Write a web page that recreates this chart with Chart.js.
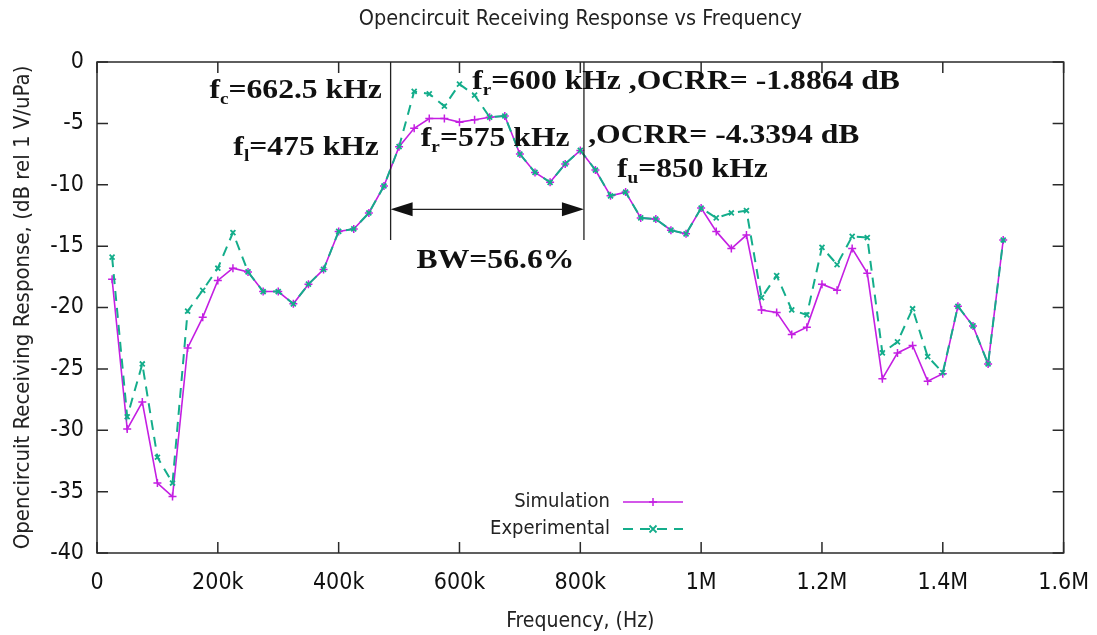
<!DOCTYPE html>
<html>
<head>
<meta charset="utf-8">
<script src="https://cdn.jsdelivr.net/npm/chart.js@4.4.1/dist/chart.umd.min.js"></script>
<style>
  html, body { margin: 0; padding: 0; background: #fff; }
  #wrap { width: 1097px; height: 635px; }
</style>
</head>
<body>
<div id="wrap"><canvas id="ocrr-chart" width="1097" height="635"></canvas></div>
<script>
// frequencies (Hz) of the measured points
const freqs = [
  25000, 50000, 75000, 100000, 125000, 150000, 175000, 200000, 225000, 250000,
  275000, 300000, 325000, 350000, 375000, 400000, 425000, 450000, 475000, 500000,
  525000, 550000, 575000, 600000, 625000, 650000, 675000, 700000, 725000, 750000,
  775000, 800000, 825000, 850000, 875000, 900000, 925000, 950000, 975000, 1000000,
  1025000, 1050000, 1075000, 1100000, 1125000, 1150000, 1175000, 1200000, 1225000, 1250000,
  1275000, 1300000, 1325000, 1350000, 1375000, 1400000, 1425000, 1450000, 1475000, 1500000
];

// OCRR, dB rel 1 V/uPa
const simulation = [
  -17.7, -29.9, -27.7, -34.3, -35.4, -23.3, -20.8, -17.8, -16.8, -17.1,
  -18.7, -18.7, -19.7, -18.1, -16.9, -13.8, -13.6, -12.3, -10.1, -6.9,
  -5.4, -4.6, -4.6, -4.9, -4.7, -4.5, -4.4, -7.5, -9.0, -9.8,
  -8.3, -7.2, -8.8, -10.9, -10.6, -12.7, -12.8, -13.7, -14.0, -11.9,
  -13.8, -15.2, -14.1, -20.2, -20.4, -22.2, -21.6, -18.1, -18.6, -15.2,
  -17.2, -25.8, -23.7, -23.1, -26.0, -25.4, -19.9, -21.5, -24.6, -14.5
];

const experimental = [
  -15.9, -28.9, -24.6, -32.2, -34.3, -20.3, -18.6, -16.8, -13.9, -17.1,
  -18.7, -18.7, -19.7, -18.1, -16.9, -13.8, -13.6, -12.3, -10.1, -6.9,
  -2.4, -2.6, -3.6, -1.8, -2.7, -4.5, -4.4, -7.5, -9.0, -9.8,
  -8.3, -7.2, -8.8, -10.9, -10.6, -12.7, -12.8, -13.7, -14.0, -11.9,
  -12.7, -12.3, -12.1, -19.2, -17.4, -20.2, -20.6, -15.1, -16.5, -14.2,
  -14.3, -23.7, -22.8, -20.1, -24.0, -25.3, -19.9, -21.5, -24.6, -14.5
];

const xTicks = [0, 200000, 400000, 600000, 800000, 1000000, 1200000, 1400000, 1600000];
const xTickLabels = ["0", "200k", "400k", "600k", "800k", "1M", "1.2M", "1.4M", "1.6M"];
const yTicks = [0, -5, -10, -15, -20, -25, -30, -35, -40];
const yTickLabels = ["0", "-5", "-10", "-15", "-20", "-25", "-30", "-35", "-40"];

// bandwidth markers (Hz) and levels (dB)
const bandEdges = [486000, 806000];
const bandLineBottom = -14.5;
const bandArrowLevel = -12;

// text notes: anchor in data coords, parts = [text, isSubscript]
const notes = [
  { x: 471500, y: -2.93, align: "right", parts: [["f"], ["c", 1], ["=662.5 kHz"]] },
  { x: 466600, y: -7.58, align: "right", parts: [["f"], ["l", 1], ["=475 kHz"]] },
  { x: 621000, y: -2.2, align: "left", parts: [["f"], ["r", 1], ["=600 kHz ,OCRR= -1.8864 dB"]] },
  { x: 536000, y: -6.84, align: "left", parts: [["f"], ["r", 1], ["=575 kHz"]] },
  { x: 813000, y: -6.6, align: "left", parts: [[",OCRR= -4.3394 dB"]] },
  { x: 860700, y: -9.37, align: "left", parts: [["f"], ["u", 1], ["=850 kHz"]] },
  { x: 529000, y: -16.8, align: "left", parts: [["BW=56.6%"]] }
];

const SANS = "'DejaVu Sans Condensed', 'DejaVu Sans', sans-serif";
const SERIF = "'Liberation Serif', 'Times New Roman', serif";
const SIM_COLOR = "#c41fe2";
const EXP_COLOR = "#14ad8b";
const EXP_DASH = [10, 7];
const TICK_LEN = 11;

function markerPath(ctx, style, x, y, r) {
  ctx.beginPath();
  if (style === "cross") {
    ctx.moveTo(x - r, y); ctx.lineTo(x + r, y);
    ctx.moveTo(x, y - r); ctx.lineTo(x, y + r);
  } else {
    ctx.moveTo(x - r, y - r); ctx.lineTo(x + r, y + r);
    ctx.moveTo(x - r, y + r); ctx.lineTo(x + r, y - r);
  }
  ctx.stroke();
}

// frame with gnuplot style inner ticks on all four sides
const framePlugin = {
  id: "frame",
  afterDraw(chart) {
    const { ctx, chartArea: a, scales } = chart;
    ctx.save();
    ctx.strokeStyle = "#2a2a2a";
    ctx.lineWidth = 1.5;
    ctx.strokeRect(a.left, a.top, a.right - a.left, a.bottom - a.top);
    ctx.beginPath();
    xTicks.forEach(v => {
      const px = scales.x.getPixelForValue(v);
      ctx.moveTo(px, a.bottom); ctx.lineTo(px, a.bottom - TICK_LEN);
      ctx.moveTo(px, a.top); ctx.lineTo(px, a.top + TICK_LEN);
    });
    yTicks.forEach(v => {
      const py = scales.y.getPixelForValue(v);
      ctx.moveTo(a.left, py); ctx.lineTo(a.left + TICK_LEN, py);
      ctx.moveTo(a.right, py); ctx.lineTo(a.right - TICK_LEN, py);
    });
    ctx.stroke();
    ctx.restore();
  }
};

// bandwidth lines, arrow and bold notes
const notesPlugin = {
  id: "notes",
  afterDraw(chart) {
    const { ctx, chartArea: a, scales } = chart;
    const x1 = scales.x.getPixelForValue(bandEdges[0]);
    const x2 = scales.x.getPixelForValue(bandEdges[1]);
    const yb = scales.y.getPixelForValue(bandLineBottom);
    const ya = scales.y.getPixelForValue(bandArrowLevel);
    ctx.save();
    ctx.strokeStyle = "#222";
    ctx.fillStyle = "#111";
    ctx.lineWidth = 1.3;
    ctx.beginPath();
    ctx.moveTo(x1, a.top); ctx.lineTo(x1, yb);
    ctx.moveTo(x2, a.top); ctx.lineTo(x2, yb);
    ctx.moveTo(x1 + 10, ya); ctx.lineTo(x2 - 10, ya);
    ctx.stroke();
    const head = 22, half = 7;
    ctx.beginPath();
    ctx.moveTo(x1, ya); ctx.lineTo(x1 + head, ya - half); ctx.lineTo(x1 + head, ya + half);
    ctx.closePath();
    ctx.moveTo(x2, ya); ctx.lineTo(x2 - head, ya - half); ctx.lineTo(x2 - head, ya + half);
    ctx.closePath();
    ctx.fill();

    const size = 28, hscale = 1.13;
    const mainFont = "bold " + size + "px " + SERIF;
    const subFont = "bold " + Math.round(size * 0.6) + "px " + SERIF;
    ctx.textBaseline = "alphabetic";
    ctx.textAlign = "left";
    notes.forEach(n => {
      const px = scales.x.getPixelForValue(n.x);
      const py = scales.y.getPixelForValue(n.y);
      let total = 0;
      n.parts.forEach(p => { ctx.font = p[1] ? subFont : mainFont; total += ctx.measureText(p[0]).width; });
      ctx.save();
      ctx.translate(px, py);
      ctx.scale(hscale, 1);
      let cx = n.align === "right" ? -total : 0;
      n.parts.forEach(p => {
        ctx.font = p[1] ? subFont : mainFont;
        ctx.fillText(p[0], cx, p[1] ? 6 : 0);
        cx += ctx.measureText(p[0]).width;
      });
      ctx.restore();
    });
    ctx.restore();
  }
};

// legend sitting inside the plot, gnuplot style
const legendPlugin = {
  id: "insideLegend",
  afterDraw(chart) {
    const { ctx, chartArea: a } = chart;
    const textRight = a.left + 513;
    const rows = [a.top + 440, a.top + 467];
    ctx.save();
    ctx.font = "20px " + SANS;
    ctx.textAlign = "right";
    ctx.textBaseline = "middle";
    chart.data.datasets.forEach((ds, i) => {
      const y = rows[i];
      ctx.fillStyle = "#222";
      ctx.fillText(ds.label, textRight, y);
      ctx.strokeStyle = ds.borderColor;
      ctx.lineWidth = ds.borderWidth;
      ctx.setLineDash(ds.borderDash || []);
      ctx.beginPath();
      ctx.moveTo(textRight + 13, y); ctx.lineTo(textRight + 73, y);
      ctx.stroke();
      ctx.setLineDash([]);
      ctx.lineWidth = ds.pointBorderWidth;
      markerPath(ctx, ds.pointStyle, textRight + 43, y, ds.pointRadius);
    });
    ctx.restore();
  }
};

const ctx = document.getElementById("ocrr-chart");

new Chart(ctx, {
  type: "line",
  data: {
    datasets: [
      {
        label: "Simulation",
        data: freqs.map((f, i) => ({ x: f, y: simulation[i] })),
        borderColor: SIM_COLOR,
        backgroundColor: SIM_COLOR,
        borderWidth: 1.6,
        pointStyle: "cross",
        pointRadius: 4,
        pointBorderWidth: 1.5,
        pointBorderColor: SIM_COLOR,
        tension: 0,
        fill: false,
        order: 1
      },
      {
        label: "Experimental",
        data: freqs.map((f, i) => ({ x: f, y: experimental[i] })),
        borderColor: EXP_COLOR,
        backgroundColor: EXP_COLOR,
        borderWidth: 2,
        borderDash: EXP_DASH,
        pointStyle: "crossRot",
        pointRadius: 3.5,
        pointBorderWidth: 1.8,
        pointBorderColor: EXP_COLOR,
        tension: 0,
        fill: false,
        order: 0
      }
    ]
  },
  options: {
    responsive: false,
    devicePixelRatio: 1,
    animation: false,
    layout: { padding: { left: 0, right: 32, top: 0, bottom: 0 } },
    scales: {
      x: {
        type: "linear",
        min: 0,
        max: 1600000,
        grid: { display: false },
        border: { display: false },
        afterBuildTicks: s => { s.ticks = xTicks.map(v => ({ value: v })); },
        afterFit: s => { s.height = 82; },
        ticks: {
          font: { family: SANS, size: 23 },
          color: "#111",
          padding: 8,
          maxRotation: 0,
          autoSkip: false,
          callback: v => xTickLabels[xTicks.indexOf(v)]
        },
        title: {
          display: true,
          text: "Frequency, (Hz)",
          color: "#222",
          font: { family: SANS, size: 21 },
          padding: { top: 0, bottom: 1 }
        }
      },
      y: {
        type: "linear",
        min: -40,
        max: 0,
        grid: { display: false },
        border: { display: false },
        afterBuildTicks: s => { s.ticks = yTicks.map(v => ({ value: v })); },
        afterFit: s => { s.width = 97; },
        ticks: {
          font: { family: SANS, size: 23 },
          color: "#111",
          padding: 5,
          callback: v => yTickLabels[yTicks.indexOf(v)]
        },
        title: {
          display: true,
          text: "Opencircuit Receiving Response, (dB rel 1 V/uPa)",
          color: "#222",
          font: { family: SANS, size: 22 },
          padding: { top: 10, bottom: 0 }
        }
      }
    },
    plugins: {
      legend: { display: false },
      tooltip: { enabled: false },
      title: {
        display: true,
        fullSize: false,
        text: "Opencircuit Receiving Response vs Frequency",
        color: "#222",
        font: { family: SANS, size: 21.5, weight: "normal" },
        padding: { top: 7, bottom: 29.2 }
      }
    }
  },
  plugins: [framePlugin, notesPlugin, legendPlugin]
});
</script>
</body>
</html>
